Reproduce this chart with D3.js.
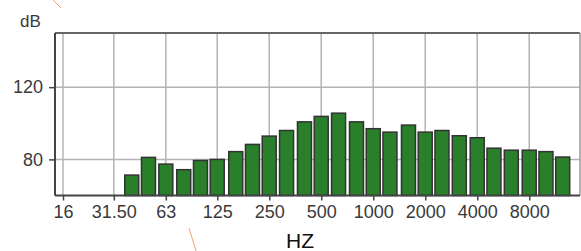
<!DOCTYPE html>
<html>
<head>
<meta charset="utf-8">
<script src="https://cdn.jsdelivr.net/npm/d3@7"></script>
<style>
  body { margin: 0; background: #fff; }
  text { font-family: "Liberation Sans", Arial, sans-serif; }
</style>
</head>
<body>
<svg class="chart"></svg>
<script>
// third-octave band centres (Hz) and levels (dB)
const bands = [40, 50, 63, 80, 100, 125, 160, 200, 250, 315, 400, 500, 630, 800,
               1000, 1250, 1600, 2000, 2500, 3150, 4000, 5000, 6300, 8000, 10000, 12500];
const levels = [71.3, 81.1, 77.4, 74.3, 79.4, 80, 84.3, 88.3, 92.9, 96, 100.8, 103.8, 105.6, 100.8,
                97, 95.1, 99, 95.1, 96, 93.1, 92, 86.2, 85.1, 85.1, 84.3, 81.3];
// octave ticks
const octaves = [16, 31.5, 63, 125, 250, 500, 1000, 2000, 4000, 8000];
const octaveLabels = ["16", "31.50", "63", "125", "250", "500", "1000", "2000", "4000", "8000"];
const yTicks = [80, 120];

const width = 581, height = 251;
const mLeft = 55, mRight = 580, mTop = 33, mBottom = 195.5;

const svg = d3.select(".chart").attr("width", width).attr("height", height);

// log-frequency scale: one octave = 52 px, 16 Hz at x=63
const x = d3.scaleLog().base(2)
    .domain([16, 16 * Math.pow(2, (mRight - 63) / 52)])
    .range([63, mRight]);
const y = d3.scaleLinear().domain([60, 150]).range([mBottom, mTop]);

const barW = 14;

// grid
svg.append("g").selectAll("line")
    .data(octaves).enter().append("line")
    .attr("x1", d => x(d)).attr("x2", d => x(d))
    .attr("y1", mTop).attr("y2", mBottom)
    .attr("stroke", "#b4b4b4").attr("stroke-width", 1.5);
svg.append("g").selectAll("line")
    .data(yTicks).enter().append("line")
    .attr("x1", mLeft).attr("x2", mRight)
    .attr("y1", d => y(d)).attr("y2", d => y(d))
    .attr("stroke", "#b4b4b4").attr("stroke-width", 1.5);

// bars
svg.append("g").selectAll("rect")
    .data(bands.map((b, i) => [b, levels[i]])).enter().append("rect")
    .attr("x", d => x(d[0]) - barW / 2)
    .attr("width", barW)
    .attr("y", d => y(d[1]))
    .attr("height", d => mBottom - y(d[1]))
    .attr("fill", "#2a7f2a")
    .attr("stroke", "#333")
    .attr("stroke-width", 1.5);

// frame
svg.append("line").attr("x1", mLeft).attr("x2", mRight).attr("y1", mTop).attr("y2", mTop)
    .attr("stroke", "#666").attr("stroke-width", 2);
svg.append("line").attr("x1", mRight).attr("x2", mRight).attr("y1", mTop).attr("y2", mBottom)
    .attr("stroke", "#999").attr("stroke-width", 1.5);

// axes
const xAxis = d3.axisBottom(x).tickValues(octaves)
    .tickFormat((d, i) => octaveLabels[i]).tickSize(5).tickSizeOuter(0);
const gx = svg.append("g").attr("transform", `translate(0,${mBottom})`).call(xAxis);
gx.select(".domain").attr("d", `M${mLeft},0H${mRight}`).attr("stroke", "#444").attr("stroke-width", 2);
gx.selectAll(".tick line").attr("stroke", "#444").attr("stroke-width", 1.5);
gx.selectAll(".tick text").attr("y", 10).attr("dy", "0.71em")
    .attr("font-size", 18).attr("fill", "#3a3a3a")
    .attr("font-family", "Liberation Sans, Arial, sans-serif");

const yAxis = d3.axisLeft(y).tickValues(yTicks).tickSize(6).tickSizeOuter(0);
const gy = svg.append("g").attr("transform", `translate(${mLeft},0)`).call(yAxis);
gy.select(".domain").attr("d", `M0,${mTop}V${mBottom}`).attr("stroke", "#444").attr("stroke-width", 2);
gy.selectAll(".tick line").attr("stroke", "#444").attr("stroke-width", 1.5);
gy.selectAll(".tick text").attr("x", -12)
    .attr("font-size", 18).attr("fill", "#3a3a3a")
    .attr("font-family", "Liberation Sans, Arial, sans-serif");

svg.append("text").attr("x", 20).attr("y", 27).text("dB")
    .attr("font-size", 17).attr("fill", "#3a3a3a");
svg.append("text").attr("x", 300).attr("y", 248).attr("text-anchor", "middle").text("HZ")
    .attr("font-size", 21).attr("fill", "#111");

// stray orange strokes seen in the picture
svg.append("line").attr("x1", 53).attr("y1", 0).attr("x2", 61).attr("y2", 8)
    .attr("stroke", "#f4a070").attr("stroke-width", 1);
svg.append("line").attr("x1", 189).attr("y1", 228).attr("x2", 196).attr("y2", 251)
    .attr("stroke", "#f4a070").attr("stroke-width", 1);
</script>
</body>
</html>
